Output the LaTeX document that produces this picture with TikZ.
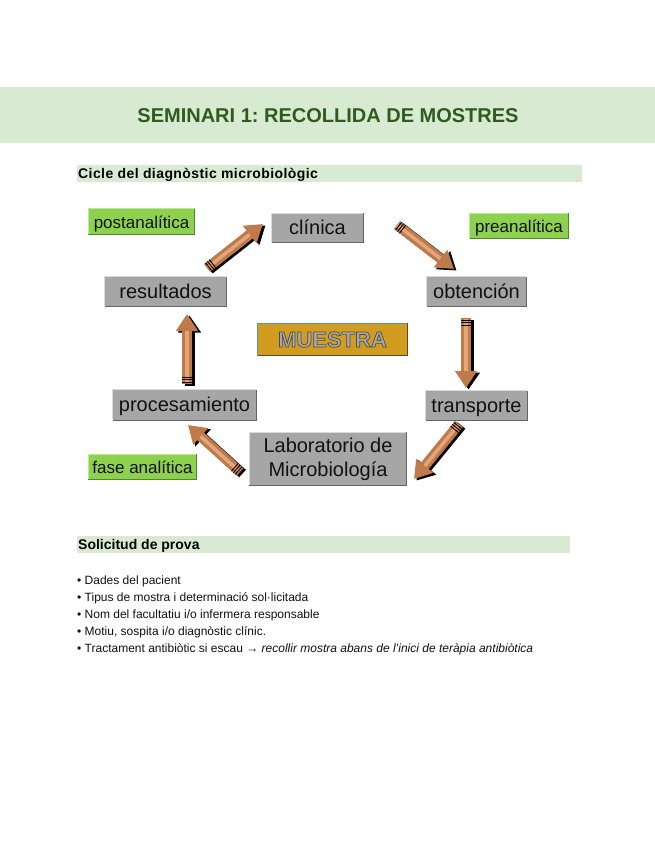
\documentclass[tikz,border=0pt]{standalone}
\usepackage{fontspec}
\setmainfont{Liberation Sans}
\usetikzlibrary{arrows.meta,calc}
\definecolor{bandgreen}{HTML}{D9EAD3}
\definecolor{titlegreen}{HTML}{2E5B1E}
\definecolor{boxgray}{HTML}{A6A6A6}
\definecolor{grayhi}{HTML}{DADADA}
\definecolor{graylo}{HTML}{646464}
\definecolor{labelgreen}{HTML}{8DD14F}
\definecolor{greenhi}{HTML}{BDEB92}
\definecolor{greenlo}{HTML}{4A8A28}
\definecolor{gold}{HTML}{D19C20}
\definecolor{goldhi}{HTML}{4E9C9C}
\definecolor{goldlo}{HTML}{5C4A1E}
\definecolor{muestragray}{HTML}{A9A9A9}
\definecolor{arrowbrown}{HTML}{BF7A4C}
\definecolor{arrowlight}{HTML}{E3A67A}
\definecolor{textblack}{HTML}{111111}
\frenchspacing
\tikzset{
  graybox/.style={fill=boxgray, inner sep=0pt, text=textblack, text height=16pt, text depth=2.5pt, font=\fontsize{20}{24}\selectfont},
  greenbox/.style={fill=labelgreen, inner sep=0pt, text=textblack, text height=15pt, text depth=1.5pt, font=\fontsize{17}{20}\selectfont},
  bandtext/.style={anchor=base west, inner sep=0pt, font=\bfseries\fontsize{14}{16}\selectfont},
  bullettext/.style={anchor=base west, inner sep=0pt, text=textblack, font=\fontsize{12}{14}\selectfont},
  shadowarr/.style={line width=10pt, black, -{Triangle[length=17pt,width=22pt]}, transform canvas={shift={(2.5pt,-1.5pt)}}},
  mainarr/.style={line width=10pt, arrowbrown, -{Triangle[length=17pt,width=21pt]}},
  lightarr/.style={line width=3.5pt, arrowlight, shorten >=17pt, shorten <=1pt},
  stripe/.style={line width=0.9pt, black}
}
\newcommand\bevelbox[3]{%
  \draw[#2, line width=1.3pt] (#1.south west) -- (#1.north west) -- (#1.north east);
  \draw[#3, line width=1.3pt] (#1.north east) -- (#1.south east) -- (#1.south west);
}
\newcommand\pencilarrow[2]{%
  \draw[shadowarr] (#1) -- (#2);
  \draw[mainarr] (#1) -- (#2);
  \draw[lightarr] (#1) -- (#2);
  \foreach \d in {2,4.5,7} {
    \coordinate (stp) at ($(#1)!\d pt!(#2)$);
    \draw[stripe] ($(stp)!5pt!90:(#2)$) -- ($(stp)!5pt!-90:(#2)$);
  }
}
\begin{document}
\begin{tikzpicture}[x=1pt,y=-1pt]
\useasboundingbox (0,0) rectangle (655,848);
\fill[white] (0,0) rectangle (655,848);
% header
\fill[bandgreen] (0,87) rectangle (655,143);
\node[inner sep=0pt, text=titlegreen, font=\bfseries\fontsize{20}{24}\selectfont] (title) at (328,116) {SEMINARI 1: RECOLLIDA DE MOSTRES};
% section bands
\fill[bandgreen] (77,165) rectangle (582,182);
\node[bandtext, font=\bfseries\fontsize{14}{16}\selectfont\addfontfeature{LetterSpace=3}] (sec1) at (78,178) {Cicle del diagnòstic microbiològic};
\fill[bandgreen] (77,536) rectangle (570,553);
\node[bandtext] (sec2) at (78,549) {Solicitud de prova};
% boxes
\node[graybox, minimum width=91pt, minimum height=29pt] (cli) at (317.5,228) {clínica};
\node[graybox, minimum width=121pt, minimum height=29pt] (res) at (165.5,291.5) {resultados};
\node[graybox, minimum width=99pt, minimum height=29pt] (obt) at (476.5,291.5) {obtención};
\node[graybox, minimum width=143pt, minimum height=30pt] (pro) at (184.5,405) {procesamiento};
\node[graybox, minimum width=101pt, minimum height=29pt] (tra) at (476.5,405.5) {transporte};
\node[fill=boxgray, inner sep=0pt, text=textblack, font=\fontsize{20}{24}\selectfont, minimum width=157pt, minimum height=53pt, align=center] (lab) at (328,459) {Laboratorio de\\Microbiología};
\bevelbox{cli}{grayhi}{graylo}
\bevelbox{res}{grayhi}{graylo}
\bevelbox{obt}{grayhi}{graylo}
\bevelbox{pro}{grayhi}{graylo}
\bevelbox{tra}{grayhi}{graylo}
\bevelbox{lab}{grayhi}{graylo}
% green labels
\node[greenbox, minimum width=106pt, minimum height=25pt] (post) at (141.5,221.5) {postanalítica};
\node[greenbox, minimum width=98pt, minimum height=25pt] (pre) at (519,226) {preanalítica};
\node[greenbox, minimum width=108pt, minimum height=25pt] (fase) at (142.5,467) {fase analítica};
\bevelbox{post}{greenhi}{greenlo}
\bevelbox{pre}{greenhi}{greenlo}
\bevelbox{fase}{greenhi}{greenlo}
% MUESTRA
\node[fill=gold, inner sep=0pt, minimum width=149pt, minimum height=32pt, font=\bfseries\fontsize{22}{24}\selectfont] (mue) at (332.5,339.5)
  {\color{muestragray}\special{pdf:literal direct 0.3 0.3 0.3 RG 0.7 w 2 Tr}MUESTRA\special{pdf:literal direct 0 Tr}};
\bevelbox{mue}{goldhi}{goldlo}
% arrows
\coordinate (a1s) at (207,268); \coordinate (a1e) at (263,224);
\coordinate (a2s) at (397,225); \coordinate (a2e) at (454,269);
\coordinate (a3s) at (466,318); \coordinate (a3e) at (466,388);
\coordinate (a4s) at (459,424); \coordinate (a4e) at (414,479);
\coordinate (a5s) at (240,472); \coordinate (a5e) at (188,425);
\coordinate (a6s) at (187,384); \coordinate (a6e) at (187,314);
\pencilarrow{a1s}{a1e}
\pencilarrow{a2s}{a2e}
\pencilarrow{a3s}{a3e}
\pencilarrow{a4s}{a4e}
\pencilarrow{a5s}{a5e}
\pencilarrow{a6s}{a6e}
% bullet list
\node[bullettext] (b1) at (77,584.5) {• Dades del pacient};
\node[bullettext] (b2) at (77,601.5) {• Tipus de mostra i determinació sol·licitada};
\node[bullettext] (b3) at (77,618.5) {• Nom del facultatiu i/o infermera responsable};
\node[bullettext] (b4) at (77,635.5) {• Motiu, sospita i/o diagnòstic clínic.};
\node[bullettext] (b5) at (77,652.5) {• Tractament antibiòtic si escau → \itshape recollir mostra abans de l'inici de teràpia antibiòtica};
\end{tikzpicture}
\end{document}
